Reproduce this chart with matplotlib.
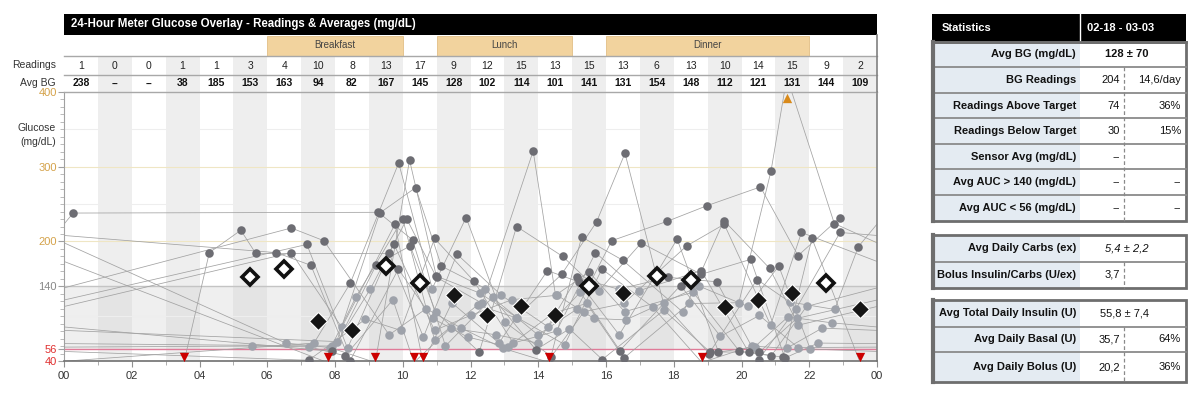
import matplotlib
matplotlib.use('Agg')
import matplotlib.pyplot as plt
from matplotlib.patches import Rectangle
from matplotlib.ticker import MultipleLocator, FixedLocator
import numpy as np

plt.rcParams['font.family'] = ['Liberation Sans', 'DejaVu Sans']

# ---------------- data ----------------
hour_slots = list(range(24))
readings_count = [1, 0, 0, 1, 1, 3, 4, 10, 8, 13, 17, 9, 12, 15, 13, 15, 13, 6, 13, 10, 14, 15, 9, 2]
avg_bg = [238, None, None, 38, 185, 153, 163, 94, 82, 167, 145, 128, 102, 114, 101, 141,
          131, 154, 148, 112, 121, 131, 144, 109]
meal_names = ['Breakfast', 'Lunch', 'Dinner']
meal_start = [6, 11, 16]
meal_end = [10, 15, 22]
x_tick_labels = ['00', '02', '04', '06', '08', '10', '12', '14', '16', '18', '20', '22', '00']
y_tick_values = [40, 56, 140, 200, 300, 400]

# meter readings per day (hour of day, mg/dL), chronological
day01_t = [3.54, 4.29, 5.22, 5.66, 9.6, 10.61, 11.6, 12.91, 14.28, 15.24, 16.41, 18.2, 19.38, 20.53, 21.67]
day01_v = [38, 185, 215, 184, 184, 72, 183, 128, 86, 132, 54, 141, 73, 101, 58]
day02_t = [5.56, 7.22, 8.3, 9.71, 10.33, 11.41, 12.76, 13.99, 15.15, 16.37, 17.83, 19.27, 20.51, 21.6, 22.91]
day02_v = [60, 59, 47, 122, 38, 84, 75, 64, 152, 136, 152, 146, 42, 109, 212]
day03_t = [6.27, 7.29, 8.44, 9.87, 10.88, 11.92, 13.11, 14.44, 15.43, 16.53, 18.46, 19.92, 20.87, 21.34, 22.74]
day03_v = [185, 168, 40, 163, 97, 72, 59, 104, 117, 44, 117, 118, 294, 420, 224]
day04_t = [6.55, 7.85, 9.19, 10.2, 11.0, 12.35, 13.85, 14.51, 15.5, 16.55, 18.57, 19.94, 20.88, 21.92]
day04_v = [64, 58, 38, 309, 152, 117, 321, 128, 159, 106, 132, 53, 47, 113]
day05_t = [6.71, 7.67, 9.6, 10.69, 11.73, 12.96, 14.33, 15.28, 16.49, 18.28, 19.48, 20.83, 21.68]
day05_v = [218, 201, 75, 110, 84, 57, 38, 206, 175, 105, 228, 164, 88]
day06_t = [6.71, 8.2, 9.77, 10.6, 11.45, 12.84, 14.27, 15.19, 16.39, 18.1, 19.32, 20.53, 21.63]
day06_v = [185, 85, 223, 38, 118, 64, 161, 146, 75, 203, 52, 52, 97]
day07_t = [7.17, 8.37, 9.73, 10.94, 12.0, 13.22, 14.56, 15.64, 16.58, 18.76, 20.19, 21.1, 22.03]
day07_v = [196, 57, 197, 81, 101, 122, 128, 97, 95, 140, 113, 167, 56]
day08_t = [7.22, 8.9, 9.94, 10.94, 12.1, 13.26, 14.54, 15.69, 16.97, 18.81, 20.21, 21.22, 22.08, 23.5]
day08_v = [41, 96, 81, 204, 147, 64, 80, 185, 134, 161, 52, 45, 204, 38]
day09_t = [7.38, 8.45, 9.88, 10.87, 11.87, 13.02, 14.39, 15.35, 16.52, 18.38, 19.49, 20.86, 21.77]
day09_v = [64, 144, 305, 137, 232, 92, 46, 106, 117, 194, 223, 88, 212]
day10_t = [7.78, 9.22, 10.22, 10.97, 12.26, 13.36, 14.72, 15.79, 17.04, 18.81, 20.27, 21.28, 22.26]
day10_v = [38, 169, 194, 106, 52, 220, 180, 134, 198, 156, 176, 44, 64]
day11_t = [7.9, 8.61, 10.0, 10.94, 12.21, 13.33, 14.69, 15.72, 16.56, 17.7, 19.05, 20.39, 21.37, 22.68]
day11_v = [60, 125, 230, 68, 115, 98, 156, 226, 318, 117, 50, 59, 99, 91]
day12_t = [7.9, 9.04, 10.12, 10.97, 12.27, 13.38, 14.78, 15.88, 17.38, 18.83, 20.31, 21.33, 22.38]
day12_v = [53, 136, 230, 154, 131, 98, 62, 163, 112, 38, 60, 57, 84]
day13_t = [8.05, 9.32, 10.38, 11.14, 12.44, 13.93, 14.92, 15.89, 17.71, 19.07, 20.46, 21.42, 22.75, 23.45]
day13_v = [66, 238, 272, 167, 137, 55, 83, 42, 108, 52, 149, 119, 109, 193]
day14_t = [0.27, 9.28, 10.29, 11.26, 12.65, 13.99, 15.13, 16.17, 17.81, 18.99, 20.56, 21.67, 22.91]
day14_v = [238, 239, 202, 60, 125, 75, 109, 201, 227, 248, 273, 181, 232]

days_t = [day01_t, day02_t, day03_t, day04_t, day05_t, day06_t, day07_t,
          day08_t, day09_t, day10_t, day11_t, day12_t, day13_t, day14_t]
days_v = [day01_v, day02_v, day03_v, day04_v, day05_v, day06_v, day07_v,
          day08_v, day09_v, day10_v, day11_v, day12_v, day13_v, day14_v]

# ---------------- figure ----------------
W, H = 1192, 393
fig = plt.figure(figsize=(W / 100, H / 100), dpi=100)

def fx(px):
    return px / W

def fy(py):
    return (H - py) / H

PL, PR, PT, PB = 64, 877, 92, 361
ax = fig.add_axes([fx(PL), fy(PB), fx(PR - PL), (PB - PT) / H])
ax.set_xlim(0, 24)
ax.set_ylim(40, 400)

# background columns and bands
for h in hour_slots:
    if h % 2 == 1:
        ax.axvspan(h, h + 1, color='#eeeeee', zorder=0, lw=0)
ax.axhspan(56, 140, color='#cfcfcf', alpha=0.32, zorder=0.5, lw=0)
for g in [100, 250, 350]:
    ax.axhline(g, color='#eeeeee', lw=0.8, zorder=0.6)
for g in [200, 300]:
    ax.axhline(g, color='#efe6c4', lw=0.8, zorder=0.6)
ax.axhline(140, color='#c4c4c4', lw=1.0, zorder=0.7)
ax.axhline(56, color='#e07a98', lw=1.0, zorder=0.7)

# lines: within days and across midnight
line_kw = dict(color='#a2a2a2', lw=0.55, zorder=2, solid_capstyle='butt')
for t, v in zip(days_t, days_v):
    ax.plot(t, v, **line_kw)
for k in range(len(days_t) - 1):
    t0, v0 = days_t[k][-1], days_v[k][-1]
    t1, v1 = days_t[k + 1][0], days_v[k + 1][0]
    ax.plot([t0, t1 + 24], [v0, v1], **line_kw)
    ax.plot([t0 - 24, t1], [v0, v1], **line_kw)

# dots
all_t = np.concatenate([np.array(t, float) for t in days_t])
all_v = np.concatenate([np.array(v, float) for v in days_v])
inr = (all_v >= 56) & (all_v <= 140)
dark = ((all_v > 140) & (all_v <= 400)) | ((all_v < 56) & (all_v >= 40))
ax.scatter(all_t[inr], all_v[inr], s=38, color='#9ea2aa', zorder=3, lw=0)
ax.scatter(all_t[dark], all_v[dark], s=38, color='#6d6d73', zorder=3, lw=0)
low = all_v < 40
high = all_v > 400
ax.scatter(all_t[low], np.full(low.sum(), 46), marker='v', s=45, color='#cc0000', zorder=4, lw=0)
ax.scatter(all_t[high], np.full(high.sum(), 392), marker='^', s=45, color='#d98a1a', zorder=4, lw=0)

# hourly averages
for h, n, a in zip(hour_slots, readings_count, avg_bg):
    if a is None or n < 2:
        continue
    if a > 140:
        ax.plot(h + 0.5, a, marker='D', ms=8, mfc='white', mec='#111111', mew=2.6, zorder=5)
    else:
        ax.plot(h + 0.5, a, marker='D', ms=9.5, mfc='#151515', mec='white', mew=0.8, zorder=5)

# axes styling
ax.spines['top'].set_visible(False)
ax.spines['left'].set_color('#a0a0a0')
ax.spines['bottom'].set_color('#707070')
ax.spines['bottom'].set_linewidth(1.2)
ax.spines['right'].set_color('#808080')
ax.spines['right'].set_linewidth(1.2)

ax.yaxis.set_major_locator(FixedLocator(y_tick_values))
ax.yaxis.set_minor_locator(MultipleLocator(10))
ax.set_yticklabels([str(v) for v in y_tick_values])
ycols = {40: '#e03030', 56: '#e03030', 140: '#888888', 200: '#d4a24a', 300: '#d4a24a', 400: '#d4a24a'}
for lab, v in zip(ax.get_yticklabels(), y_tick_values):
    lab.set_color(ycols[v])
ax.tick_params(axis='y', which='major', length=4, color='#a0a0a0', labelsize=8, pad=1)
ax.tick_params(axis='y', which='minor', length=3, color='#b0b0b0')
ax.xaxis.set_major_locator(FixedLocator(list(range(0, 25, 2))))
ax.xaxis.set_minor_locator(MultipleLocator(1))
ax.set_xticklabels(x_tick_labels)
ax.tick_params(axis='x', which='major', length=4, color='#909090', labelsize=8, pad=3, labelcolor='#333333')
ax.tick_params(axis='x', which='minor', length=3, color='#a0a0a0')

fig.text(fx(56), fy(128), 'Glucose', ha='right', va='center', fontsize=7.5, color='#333333')
fig.text(fx(56), fy(142), '(mg/dL)', ha='right', va='center', fontsize=7.5, color='#333333')

# ---------------- header table ----------------
hx = fig.add_axes([fx(PL), fy(PT), fx(PR - PL), (PT - 14) / H])
hx.set_xlim(0, 24)
hx.set_ylim(PT, 14)
hx.axis('off')
hx.add_patch(Rectangle((0, 14), 24, 21, color='black', lw=0))
hx.text(0.2, 24.5, '24-Hour Meter Glucose Overlay - Readings & Averages (mg/dL)',
        color='white', fontsize=8.3, fontweight='bold', va='center', ha='left')
for name, s, e in zip(meal_names, meal_start, meal_end):
    hx.add_patch(Rectangle((s, 35.5), e - s, 20.5, fc='#f2d39e', ec='#e2bf86', lw=0.6))
    hx.text((s + e) / 2, 45.5, name, ha='center', va='center', fontsize=7, color='#444444')
for h in hour_slots:
    if h % 2 == 1:
        hx.add_patch(Rectangle((h, 56.5), 1, 35.5, color='#eeeeee', lw=0))
for h, n, a in zip(hour_slots, readings_count, avg_bg):
    hx.text(h + 0.5, 65.8, str(n), ha='center', va='center', fontsize=7.5, color='#222222')
    hx.text(h + 0.5, 83.5, '--' if a is None else str(a), ha='center', va='center',
            fontsize=7.5, fontweight='bold', color='#111111')
for yy in [56, 75, 92]:
    hx.plot([0, 24], [yy, yy], color='#a8a8a8', lw=1.0, clip_on=False)
hx.plot([24, 24], [35, 92], color='#808080', lw=1.2, clip_on=False)
fig.text(fx(56), fy(65.5), 'Readings', ha='right', va='center', fontsize=7.5, color='#333333')
fig.text(fx(56), fy(83.5), 'Avg BG', ha='right', va='center', fontsize=7.5, color='#333333')

# ---------------- statistics tables ----------------
tx = fig.add_axes([0, 0, 1, 1])
tx.set_xlim(0, W)
tx.set_ylim(H, 0)
tx.axis('off')
tx.patch.set_alpha(0)

X0, XS, XD, X1 = 932, 1080, 1124, 1186
LBL_BG = '#e4ebf2'
BORDER = '#6e6e6e'
FS = 8

def draw_table(bounds, rows, dash_from):
    top, bot = bounds[0], bounds[-1]
    tx.add_patch(Rectangle((X0, top), XS - X0, bot - top, fc=LBL_BG, lw=0))
    tx.add_patch(Rectangle((XS, top), X1 - XS, bot - top, fc='white', lw=0))
    for yb in bounds[1:-1]:
        tx.plot([X0, X1], [yb, yb], color='#8a8a8a', lw=1.3)
    if dash_from is not None:
        tx.plot([XD, XD], [dash_from, bot], color='#8a8a8a', lw=0.9, ls=(0, (3, 2)))
    tx.add_patch(Rectangle((X0, top), X1 - X0, bot - top, fc='none', ec=BORDER, lw=2))
    tx.plot([X0 + 1, X0 + 1], [top, bot], color=BORDER, lw=3)
    for (label, v1, v2, style), ya, yb in zip(rows, bounds[:-1], bounds[1:]):
        yc = (ya + yb) / 2
        tx.text(XS - 4, yc, label, ha='right', va='center', fontsize=FS, fontweight='bold', color='#111111')
        if style == 'span':
            tx.text(1105, yc, v1, ha='left', va='center', fontsize=FS, fontweight='bold', color='#111111')
        elif style == 'italic':
            tx.text(1105, yc, v1, ha='left', va='center', fontsize=FS, fontstyle='italic', color='#111111')
        elif style == 'spanplain':
            tx.text(1100, yc, v1, ha='left', va='center', fontsize=FS, color='#111111')
        else:
            if v1:
                tx.text(XD - 4, yc, v1, ha='right', va='center', fontsize=FS, color='#111111')
            if v2:
                tx.text(X1 - 5, yc, v2, ha='right', va='center', fontsize=FS, color='#111111')

# header of table 1
tx.add_patch(Rectangle((X0, 14), X1 - X0, 27.5, fc='black', lw=0))
tx.plot([XS, XS], [14, 41.5], color='white', lw=1)
tx.text(942, 27.8, 'Statistics', color='white', fontsize=FS, fontweight='bold', va='center', ha='left')
tx.text(1087, 27.8, '02-18 - 03-03', color='white', fontsize=FS, fontweight='bold', va='center', ha='left')

stat_rows1 = [
    ('Avg BG (mg/dL)', '128 ± 70', '', 'span'),
    ('BG Readings', '204', '14,6/day', 'pair'),
    ('Readings Above Target', '74', '36%', 'pair'),
    ('Readings Below Target', '30', '15%', 'pair'),
    ('Sensor Avg (mg/dL)', '--', '', 'pair'),
    ('Avg AUC > 140 (mg/dL)', '--', '--', 'pair'),
    ('Avg AUC < 56 (mg/dL)', '--', '--', 'pair'),
]
draw_table([41.5, 67.3, 93.3, 118.3, 144, 169.3, 195, 220.5], stat_rows1, 67.3)
tx.plot([X0, X1], [41.5, 41.5], color=BORDER, lw=2)

stat_rows2 = [
    ('Avg Daily Carbs (ex)', '5,4 ± 2,2', '', 'italic'),
    ('Bolus Insulin/Carbs (U/ex)', '3,7', '', 'pair'),
]
draw_table([235, 261.5, 287.5], stat_rows2, 261.5)

stat_rows3 = [
    ('Avg Total Daily Insulin (U)', '55,8 ± 7,4', '', 'spanplain'),
    ('Avg Daily Basal (U)', '35,7', '64%', 'pair'),
    ('Avg Daily Bolus (U)', '20,2', '36%', 'pair'),
]
draw_table([299.5, 326.7, 351.7, 382.3], stat_rows3, 326.7)

fig.savefig('out.png', dpi=100)
